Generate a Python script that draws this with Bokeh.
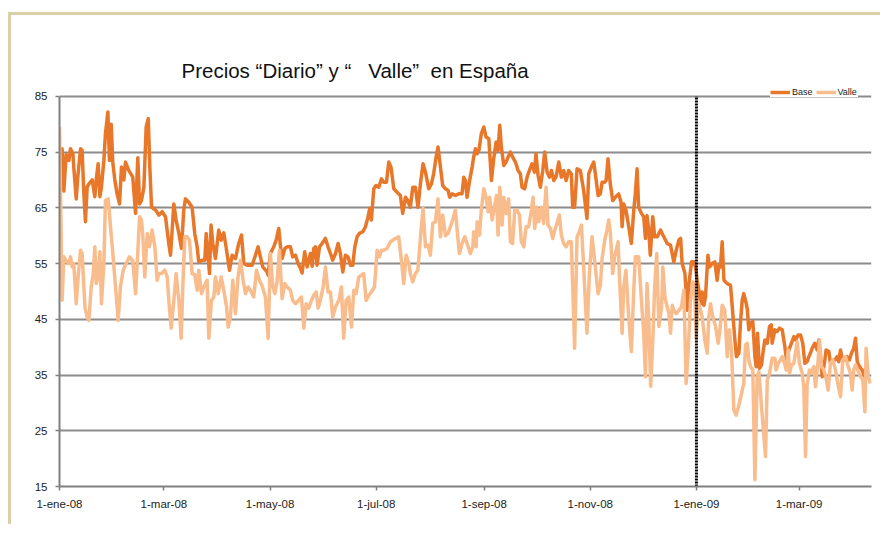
from bokeh.plotting import figure
from bokeh.models import Range1d, FixedTicker, Legend, LegendItem
from bokeh.embed import file_html
from bokeh.resources import INLINE

# x = days since 1-ene-08
tick_days = [0, 60, 121, 182, 244, 305, 366, 425]
tick_labels = ["1-ene-08", "1-mar-08", "1-may-08", "1-jul-08", "1-sep-08",
               "1-nov-08", "1-ene-09", "1-mar-09"]
y_ticks = [15, 25, 35, 45, 55, 65, 75, 85]
divider_day = 366  # 1-ene-09

base_day = [0, 1.5, 2.5, 3.8, 5.4, 6.3, 7.7, 8.2, 9.6, 10.5, 12.1, 13, 14, 14.9, 15.9, 16.9, 18.8, 20.3, 21.1, 22.2,
            23.2, 24.1, 25.5, 26.4, 27.8, 28.7, 29.7, 30.6, 31.8, 33.1, 34.5, 35.6, 37, 37.9, 39.8, 42.1, 43.7, 45, 46,
            47.1, 48.5, 49.8, 51, 51.9, 52.9, 55.2, 57.1, 59, 60.9, 62.8, 63.8, 65.7, 67, 68.6, 70.1, 71.4, 72.4, 74.3,
            76.2, 77.7, 79.1, 80, 82, 83.5, 84.3, 86.2, 87.1, 88.1, 89.6, 91.5, 92.9, 94.4, 95.7, 97.7, 99.2, 101.1,
            103, 104.6, 105.9, 107.8, 110.7, 112.6, 114.1,
            116.8, 119.3, 119.9, 121.2, 123.1, 124.5, 126, 127, 127.9, 129.5, 130.8, 132.7, 134, 135.6, 137.1, 138.5,
            139.4, 140.9, 142.3, 144.2, 145.2, 146.1, 147.1, 148, 149.4, 150.9, 152.8, 154.3, 155.7, 157, 158.6, 160.1,
            161.4, 162.8, 164.3, 165.8, 167.2, 168.5, 169.7, 171, 172.3, 174.3, 175.8, 177.1, 178.3, 179.2, 180.6,
            181.9, 183.5, 185, 186.3, 187.9, 189.2, 190.5, 192.1, 194, 195.9, 197.2, 198.8, 200.1, 201.6, 203, 204.5,
            206, 207.4, 208.9, 210.3, 212.2, 213.7, 215, 216.4, 217.5, 218.9, 220.2, 221.8, 223.3, 224.2, 225.6,
            227.5, 229.4, 231.3, 232.3, 233.2, 234.2, 235.5, 237.1, 238, 239, 240, 241, 242.4, 243.8, 245.1, 246.7,
            248.2, 249.5, 250.9, 252, 253, 253.9, 255.3, 256.6, 257.8, 259.1, 260.4, 262, 263.5, 264.8, 265.8, 267.3,
            268.7, 270, 271.5, 272.9, 273.8, 275, 276.3, 277.7, 278.8, 280.2, 281.5, 282.7, 284, 285.3, 286.9, 288.4,
            289.7, 291.1, 292.6, 294.1, 294.9, 296, 297.4, 299.3, 301.2, 303.1, 304.1, 305.6, 307, 307.9, 309.5,
            310.8, 311.8, 313.3, 314.1, 315.2, 316.5, 317.9, 319.4, 321.3, 322.7, 323.3, 324.2, 325.5, 327.1, 328.6,
            330, 330.9, 331.9, 332.8, 334.4, 335.7, 336.7, 337.6, 338.6, 339.5, 340.9, 342,
            343.5, 345.4, 346.3, 349.2, 351.1, 353, 354.4, 355.9, 356.9, 357.8, 359.4, 360.7, 361.7, 363.2, 364.5,
            365.5, 366.4, 367.4, 368.4, 369.3, 370.3, 371.2, 372.6, 373.5, 375.1, 376.6, 377.9, 378.9, 379.8, 380.8,
            381.8, 383.7, 385.6, 386.9, 388.1, 389, 390.4, 391.3, 392.3, 393.2, 394.2, 395.2, 396.1, 397.1, 398.4,
            399.6, 400.3, 401.1, 402.2, 403.4, 404.2, 405.3, 406.7, 408, 409, 409.5, 411.1, 412.4, 413.7, 415.3,
            416.8, 417.8, 419.1, 420.6, 422, 422.9, 424.5, 425.8, 427.1, 428.3, 429.6, 430.6, 431.5, 432.5, 434,
            435.4, 436.3, 437.3, 438.3, 439.8, 440.5, 442.1, 443, 444, 445.5, 446.9, 447.8, 448.8, 449.7, 451.3,
            452.6, 453.9, 455.1, 456.4, 457.4, 458.4, 459.7, 461.2, 462.8, 464.1]
base_val = [67, 75.6, 68, 74.5, 73.5, 75.6, 74.7, 72.3, 66.6, 70.5, 75.6, 75.3, 67.5, 62.5, 68.7, 69.3, 70, 67, 70, 72.9,
            67, 68.7, 73.5, 78.3, 82.2, 73.5, 80, 73.2, 70, 67.5, 65.7, 72.3, 70, 73.2, 71.7, 70.5, 64, 74, 65.7,
            66.3, 68.7, 79.5, 81, 72.3, 65.1, 64.6, 63.7, 64.3, 63.4, 58.6, 56.5, 65.7, 62.8, 60.4, 57.7, 64.6, 66.6, 66,
            65.1, 60.4, 58, 55.3, 55.6, 55.6, 60.4, 53.2, 61.9, 58.6, 55.9, 61, 59.2, 60.5, 58, 53.8, 56.5, 55.9,
            58.6, 60.1, 55, 54.7, 54.7, 56.5, 58,
            54.4, 53.5, 52.9, 56.8, 58, 59.2, 61.3, 58, 55.9, 57.7, 58, 58, 56.2, 56.5, 55, 54.1,
            53.3, 57.1, 54.4, 56.8, 54.5, 57.7, 58, 54.7, 58, 58.6, 59.5, 58, 56.8, 55.6, 56.8, 58.6,
            56.8, 53.5, 56.5, 56.2, 54.7, 54.7, 58, 59.8, 60.4, 60.7, 61.6, 63.1, 64.9, 62.8, 68.4,
            69, 68.7, 70.2, 69.6, 69.6, 73.2, 72.3, 68.4, 67.8, 67.2, 64, 66.9, 66.3, 65.1, 68.7, 68.7,
            65.1, 69.3, 72.9, 71.4, 68.4, 69.3, 71.1, 74.1, 75.9, 72.3, 69, 68.4, 68.1, 66.9, 67.5,
            67.2, 67.5, 67.5, 70.5, 69.9, 66.9, 69.6, 72.3, 74.1, 75.6, 74.7, 75.3, 78.3, 79.5, 77.7, 77.4,
            69.9, 73.8, 76.8, 75.3, 79.8, 75.9, 72.6, 73.2, 74.1, 75, 74.1, 73.2, 71.7, 71.1, 68.7, 68.4,
            70.5, 71.7, 72.9, 71.4, 74.7, 70.8, 68.7, 71.7, 75, 71.4, 70.5, 71.7, 69.9, 70.5, 73.2, 70.5,
            71.7, 69.9, 71.7, 71.1, 65.1, 65.1, 72, 71.7, 68.1, 63.1, 71.1, 72.3, 73.2, 71.1, 67.2,
            67.5, 69.6, 69.6, 69.9, 73.8, 69.3, 66.3, 66.9, 67.5, 66, 61.6, 65.7, 64.6, 61.6, 58.6,
            64.6, 67.5, 72, 65.1, 64, 63.4, 59.5, 63.6, 61, 56.5, 63.4, 59.8,
            59.8, 61, 60.4, 58.6, 58.3, 55.3, 57.4, 59.2, 59.5, 55, 53.2, 46.6, 51.4, 55.3, 55.3,
            54.4, 52, 50.2, 47.8, 49.9, 47.5, 49, 56.5, 54.4, 55, 55.3, 52, 54.7, 54.4, 58.9,
            52, 51.4, 51.1, 46, 41.3, 38.3, 38.9, 44.3, 48.4, 49.6, 48.4, 46.9, 43.1, 44.3, 44.6,
            38.3, 36.5, 42.5, 36.2, 36.8, 38.9, 41.3, 40.7, 43.7, 44, 40.7, 43.1, 42.8, 43.4, 43.1,
            40.1, 37.7, 39.5, 40.7, 41.9, 41.3, 42.2, 42.2, 40.7, 37.1, 37.4, 38.3, 38.9, 39.8, 40.7,
            39.5, 41.3, 38.3, 34.7, 37.7, 39.5, 39.2, 37.1, 37.4, 37.7, 38.3, 37.4, 39.5, 38, 37.7,
            38.3, 37.7, 38.9, 39.8, 41.6, 37.4, 36.5, 35.9, 34.7, 34.4]

valle_day = [0, 1.5, 2.5, 3.8, 5.4, 6.3, 7.3, 8.2, 9.6, 10.7, 12.1, 13, 14.6, 15.9, 16.9, 18.2, 19.3, 20.3, 21.1, 22.2,
             23.2, 24.1, 25.5, 26.4, 28, 29.3, 30.6, 32.2, 33.7, 35, 36.6, 38.3, 40.2, 42.1, 43.7, 45, 46, 47.1, 47.9,
             49, 50.4, 51.7, 53.2, 54.8, 56.1, 57.1, 58.6, 60.5, 61.9, 62.8, 64.2, 65.7, 67, 68.6, 69.9, 71, 72, 73.3,
             74.7, 76.2, 77.7, 79.1, 80, 81.6, 82.9, 84.8, 85.8, 87.3, 88.7, 89.6, 91.2, 92.9, 94.4, 96, 96.9, 98.2,
             99.6, 101.1, 102.6, 104, 105.5, 106.9, 108.4, 109.7, 111.6, 113.2, 114.9,
             116.4, 118.3, 119.9, 121.2, 122.5, 123.7, 125, 126.4, 127.9, 129.5, 130.8, 132.7, 134, 135.6, 137.5,
             139, 140.4, 141.7, 143.2, 144.8, 146.1, 147.5, 148.6, 149.9, 151.5, 152.8, 154.3, 155.7, 157, 158.6,
             160.5, 162, 163.3, 164.7, 166.2, 167.8, 169.1, 170.4, 172, 173.5, 174.8, 176.2, 177.7, 179.2, 181,
             182.5, 183.8, 185, 186.3, 188.2, 190.2, 193, 194.9, 196.5, 197.8, 199.2, 200.7, 201.6, 203, 204.5,
             205.9, 207.4, 208.9, 210.3, 211.8, 213.1, 214.5, 216, 217.5, 218.9, 220.2, 221.8, 223.3, 225.6,
             227.5, 228.5, 229.8, 231.3, 232.9, 234.8, 236.1, 237.5, 238, 239.4, 240, 241.3, 242.4, 243.8, 245.1,
             246.3, 247.2, 248.6, 249.9, 251.1, 252, 253, 254.3, 255.3, 256.6, 258.1, 259.1, 260.4, 261.6, 262.9,
             264.3, 265.4, 266.8, 268.1, 269.6, 271.2, 272.1, 273.1, 274.4, 275.4, 276.9, 278.2, 279.6, 280.7,
             282.1, 283.4, 284.6, 285.9, 287.2, 288.4, 289.7, 291.1, 292.6, 294.1, 296, 297.4, 298.7, 299.9, 301.2,
             303.1, 304.5, 306, 307.9, 309.5, 310.8, 311.8, 313.3, 314.6, 315.6, 316.5, 317.9, 319, 321, 321.7,
             323.3, 324.2, 325.5, 327.1, 328.6, 330, 330.9, 332.8, 334.4, 335.7, 336.7, 337.6, 338.6, 339.7, 340.9,
             342, 343.2, 344.4, 346, 346.7, 347.9, 349.2, 350.2, 351.1, 352.1, 353, 354.4, 355.9, 357.4, 358.8,
             360.1, 361.3, 362.6, 364, 365.1, 365.9, 367, 368.4, 369.3, 370.8, 372.2, 373.1, 374.1, 375.4, 377,
             378.5, 379.5, 380.8, 382.3, 383.7, 385, 386.2, 387.5, 388.8, 390.4, 391.9, 393.2, 394.2, 395.2, 396.1,
             397.1, 398.4, 399.6, 400.9, 401.9, 403.4, 405.7, 406.7, 408, 409.5, 411.1, 411.8, 413, 414.3, 415.3,
             416.6, 417.6, 418.7, 419.5, 420.6, 422, 423.9, 425.2, 426.8, 427.7, 428.7, 429.6, 430.9, 432.1, 433.5,
             434.4, 435.8, 436.7, 437.9, 439.2, 440.5, 441.7, 443, 444.4, 445.9, 447.4, 448.8, 450.1, 451.7, 453.2,
             454.5, 455.5, 456.4, 457.4, 458.7, 460.3, 461.6, 462.8, 463.5, 464.7, 466]
valle_val = [79.5, 48.4, 56.2, 55.5, 55, 56.2, 54.4, 55, 47.8, 52.6, 57.4, 56.8, 47.2, 45.4, 44.8, 50.8, 53, 58, 51.4, 52.6,
             57.1, 47.8, 55, 66.3, 66.6, 61.6, 57, 50.8, 44.8, 50.8, 53.8, 55, 56.2, 55.5, 49.6, 57, 63.4, 62.8, 59.8,
             52.6, 60.4, 58, 61, 58, 52, 53.2, 53.2, 53.8, 52.6, 48.4, 43.4, 48.4, 53.2, 48.4, 41.6, 52, 59.8, 59.8,
             59.2, 53.2, 53, 50.2, 53.8, 49.6, 50.8, 52, 41.6, 48.4, 49, 52.6, 49.6, 52.6, 50.2, 47.2, 43.6, 45.4,
             52, 46, 52.6, 55.6, 52, 49.6, 50.8, 50.2, 49, 53.8, 52,
             51, 49, 41.6, 56.8, 51, 49.6, 51.7, 57.4, 48.7, 51.4, 50.8, 50.2, 48.4, 47.8, 48.4,
             49, 43.4, 47.8, 47, 48.4, 49.3, 49.9, 47, 48.4, 50.8, 54.4, 49.9, 49.9, 45.4, 47.2,
             48.4, 50.8, 41.6, 48.4, 49, 43.6, 50.2, 49.6, 52.6, 52.9, 53.2, 48.4, 49.3, 49.9, 50.8,
             57.4, 56.2, 57.4, 57.4, 57.7, 58.9, 59.5, 59.8, 55.6, 51.4, 56.5, 55, 53.2, 51.7, 53.2,
             53.8, 59.5, 64.9, 58, 58.3, 56.5, 62.2, 62.5, 66.6, 59.8, 63.7, 60, 60.4, 62.5,
             64.6, 61, 56.8, 58.6, 59.8, 58, 56.8, 58, 60.7, 58, 62.5, 60.1, 64.6, 68.4, 66.9,
             64.3, 66.9, 62.8, 65.1, 67.2, 60.1, 68.7, 61.9, 66.9, 64, 66.6, 58.9, 58.6, 64.6, 64.6,
             63.7, 58.9, 58, 61.6, 61.6, 64.6, 66.9, 61.3, 65.1, 62.5, 65.1, 62.2, 68.7, 61.9,
             61.3, 59.5, 61, 62.2, 63.7, 60.1, 58.6, 58, 58.9, 58.9, 39.8, 59.8, 60.7, 61.9, 54.4,
             42.5, 53.2, 59.8, 54.4, 49.6, 51.1, 55.9, 59.2, 61, 62.8, 60.7, 53.2, 56.2, 58.9, 53.2,
             42.5, 50.8, 53.8, 45.4, 39.2, 50.2, 56.2, 56.2, 48.4, 42.5, 34.7, 51.4, 44.9, 33, 41,
             50.8, 56.8, 43.7, 47.2, 54.4, 49, 47.2, 46, 42.5, 47.5, 46.6, 46, 46.6, 47.2, 50.2,
             33.5, 39.5, 48.4, 51.7, 49.3, 41.6, 48.1, 46.6, 45.4, 41.3, 38.9, 45.4, 47.8, 45.4, 43.7,
             40.7, 43.1, 47.5, 46.6, 38.3, 43.1, 39.2, 28.7, 27.8, 29.6, 31.7, 33.5, 40.4, 40.7, 37.7,
             36.5, 35.9, 16.2, 34.7, 35.6, 29.3, 20.4, 34.1, 35.3, 38, 38, 35.9, 37.1, 37.7, 38.3,
             37.1, 35.9, 39.5, 35.3, 36.8, 37.1, 41, 37.1, 35.3, 32.9, 20.4, 33.2, 35.9, 35.3, 36.5,
             32.9, 37.1, 41.3, 36.5, 35.9, 34.4, 32.3, 37.1, 37.7, 35.9, 33.2, 31.1, 37.7, 38.3, 36.5,
             35.3, 32.3, 35.9, 36.8, 35.9, 34.7, 34.1, 28.4, 39.8, 34.7, 33.5]

BASE_COLOR = "#E8772A"
VALLE_COLOR = "#F9BC8C"
FONT = "Liberation Sans"

p = figure(width=872, height=512, output_backend="svg", toolbar_location=None,
           x_range=Range1d(0, 466.6), y_range=Range1d(15, 87.3),
           min_border_left=48, min_border_right=12, min_border_top=68, min_border_bottom=41)
p.styles = {"border-left": "3px solid #D9CFA8", "border-top": "3px solid #D9CFA8",
            "margin-top": "12px", "margin-left": "8px"}
p.background_fill_color = "white"
p.border_fill_color = "white"
p.outline_line_color = None

p.title.text = "Precios \u201cDiario\u201d y \u201c\u00a0\u00a0 Valle\u201d\u00a0 en Espa\u00f1a"
p.title.text_font = FONT
p.title.text_font_size = "20.5px"
p.title.text_font_style = "normal"
p.title.text_color = "#111111"
p.title.align = "left"
p.title.offset = 122
p.title.standoff = 4

for ax in (p.xaxis[0], p.yaxis[0]):
    ax.axis_line_color = "#808080"
    ax.axis_line_width = 2
    ax.major_tick_line_color = "#808080"
    ax.major_tick_line_width = 1.5
    ax.major_tick_in = 0
    ax.major_tick_out = 4
    ax.minor_tick_line_color = None
    ax.major_label_text_font = FONT
    ax.major_label_text_font_size = "11.5px"
    ax.major_label_text_color = "#222222"

p.xaxis.ticker = FixedTicker(ticks=tick_days)
p.xaxis.major_label_overrides = {d: l for d, l in zip(tick_days, tick_labels)}
p.xaxis.major_label_standoff = 7
p.yaxis.ticker = FixedTicker(ticks=y_ticks)
p.yaxis.bounds = (y_ticks[0], y_ticks[-1])
p.yaxis.major_label_standoff = 8

p.xgrid.visible = False
p.ygrid.ticker = FixedTicker(ticks=y_ticks)
p.ygrid.grid_line_color = "#8C8C8C"
p.ygrid.grid_line_width = 2

r_base = p.line(base_day, base_val, line_color=BASE_COLOR, line_width=3.5, line_join="round")
r_valle = p.line(valle_day, valle_val, line_color=VALLE_COLOR, line_width=3.5, line_join="round")

p.segment(x0=[divider_day], y0=[y_ticks[0]], x1=[divider_day], y1=[y_ticks[-1]],
          line_color="black", line_width=3, line_dash="2 1")

legend = Legend(items=[LegendItem(label="Base", renderers=[r_base]),
                       LegendItem(label="Valle", renderers=[r_valle])],
                orientation="horizontal", location=(711, 389),
                background_fill_color="white", background_fill_alpha=1.0,
                border_line_color=None, label_text_font=FONT, label_text_font_size="9px",
                label_text_color="#222222", glyph_width=20, glyph_height=10,
                label_standoff=2, spacing=3, padding=2, margin=0)
p.add_layout(legend)

open("out.html", "w").write(file_html(p, INLINE))
